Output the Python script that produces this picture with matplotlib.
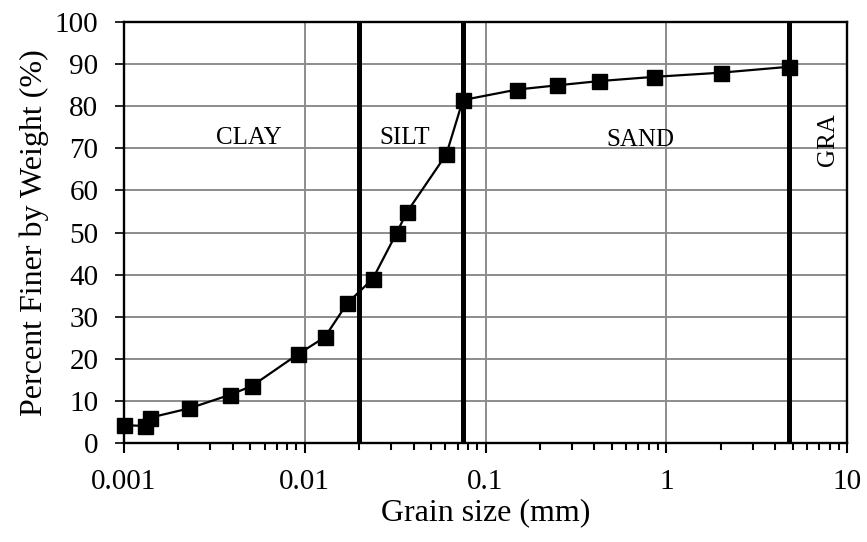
import matplotlib
matplotlib.use('Agg')
from matplotlib import pyplot as plt
from matplotlib.ticker import LogLocator, FixedLocator, FuncFormatter, NullFormatter

# grain size distribution
grain_mm = [0.001, 0.00131, 0.0014, 0.0023, 0.00385, 0.0051, 0.0092, 0.0129, 0.0172,
            0.0238, 0.0323, 0.0367, 0.0607, 0.075, 0.15, 0.25, 0.425, 0.85, 2.0, 4.75]
finer_pct = [4.2, 4.0, 6.0, 8.2, 11.4, 13.5, 21.1, 25.1, 33.2,
             39.0, 50.0, 54.8, 68.6, 81.5, 84.0, 85.0, 86.0, 87.0, 88.0, 89.4]

# soil class boundaries and labels
boundaries = [0.02, 0.075, 4.75]
class_names = ['CLAY', 'SILT', 'SAND', 'GRA']
class_x = [0.0049, 0.0357, 0.72, 7.8]
class_y = [72.5, 72.5, 72.0, 72.0]
class_rot = [0, 0, 0, 90]

x_ticks = [0.001, 0.01, 0.1, 1, 10]
x_tick_labels = ['0.001', '0.01', '0.1', '1', '10']
y_ticks = list(range(0, 101, 10))

plt.rcParams['font.family'] = ['Liberation Serif', 'DejaVu Serif']

fig = plt.figure(figsize=(8.67, 5.42), dpi=100)
ax = fig.add_axes([0.143, 0.183, 0.834, 0.776])

ax.set_xscale('log')
ax.set_xlim(0.001, 10)
ax.set_ylim(0, 100)

ax.grid(True, which='major', color='#8c8c8c', linewidth=1.4)
ax.set_axisbelow(True)

for b in boundaries:
    ax.axvline(b, color='black', linewidth=3.6, zorder=3)

ax.plot(grain_mm, finer_pct, color='black', linewidth=1.6, marker='s',
        markersize=10.8, zorder=4, clip_on=False)

for name, xx, yy, rot in zip(class_names, class_x, class_y, class_rot):
    ax.text(xx, yy, name, ha='center', va='center', rotation=rot, fontsize=18)

ax.xaxis.set_major_locator(FixedLocator(x_ticks))
ax.xaxis.set_major_formatter(FuncFormatter(lambda v, p: x_tick_labels[x_ticks.index(v)] if v in x_ticks else ''))
ax.xaxis.set_minor_locator(LogLocator(base=10, subs=range(2, 10)))
ax.xaxis.set_minor_formatter(NullFormatter())
ax.set_yticks(y_ticks)

ax.tick_params(axis='x', which='major', direction='out', length=7, width=1.5, labelsize=21, pad=12)
ax.tick_params(axis='x', which='minor', direction='out', length=5, width=1.5)
ax.tick_params(axis='y', which='major', direction='out', length=6.5, width=1.2, labelsize=21, pad=12)

for s in ax.spines.values():
    s.set_linewidth(1.7)
    s.set_color('black')

ax.set_xlabel('Grain size (mm)', fontsize=23, labelpad=2)
ax.set_ylabel('Percent Finer by Weight (%)', fontsize=23, labelpad=4)

fig.savefig('out.png', dpi=100)
